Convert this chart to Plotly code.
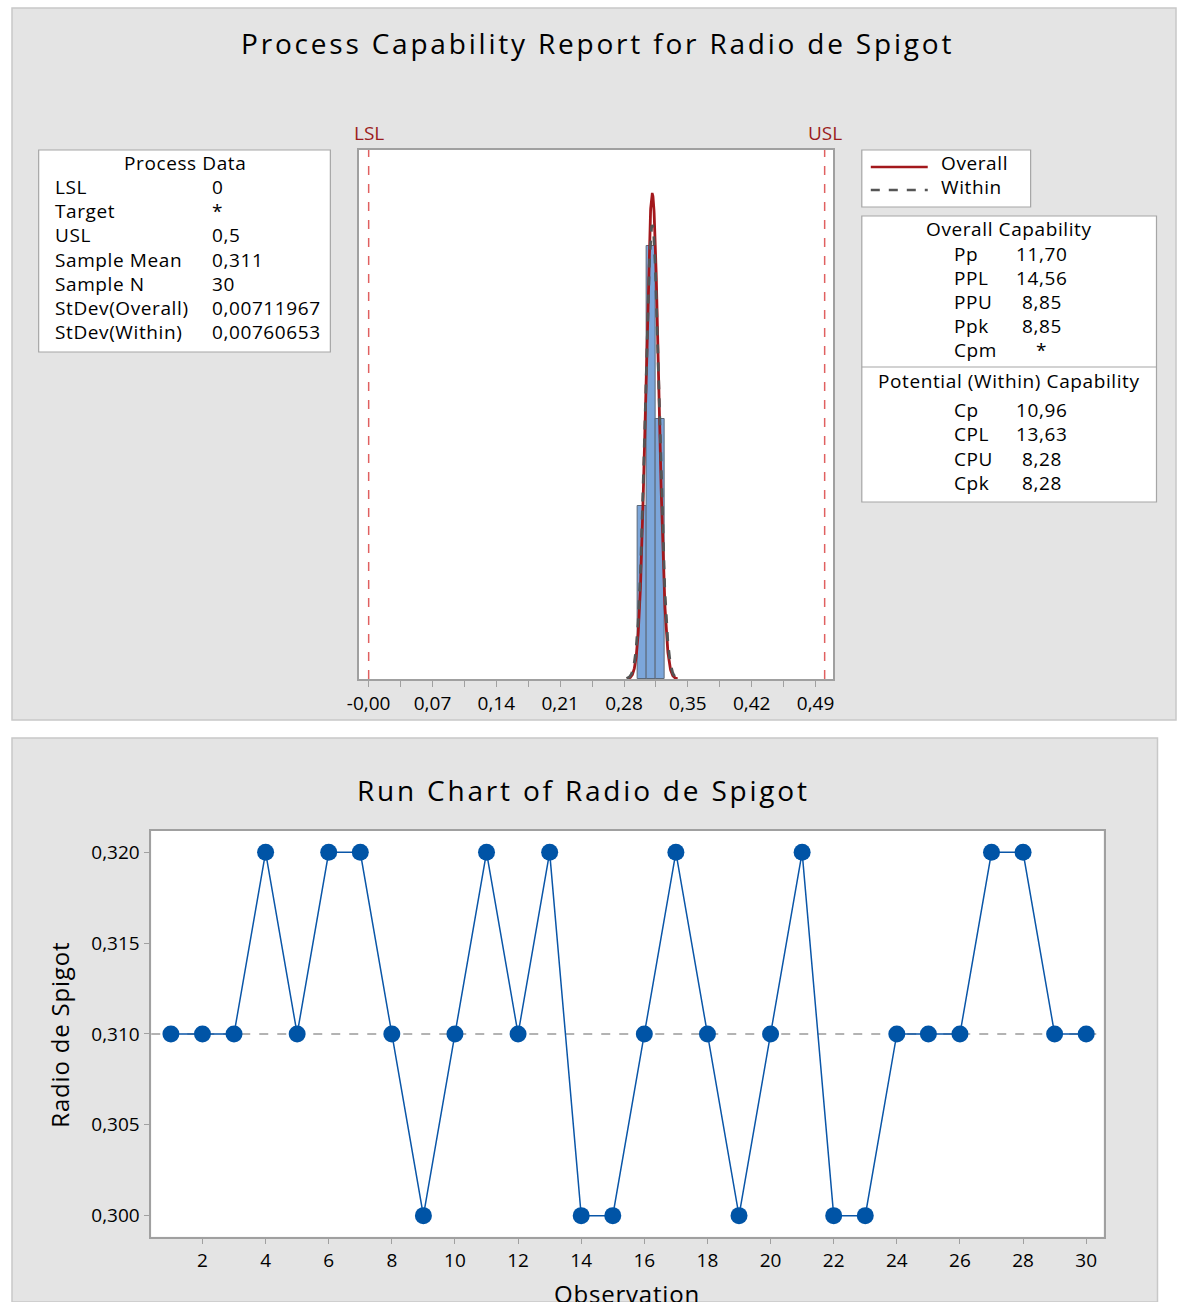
import numpy as np
import plotly.graph_objects as go

# ---------------- data ----------------
observation = list(range(1, 31))
radio = [0.310, 0.310, 0.310, 0.320, 0.310, 0.320, 0.320, 0.310, 0.300, 0.310,
         0.320, 0.310, 0.320, 0.300, 0.300, 0.310, 0.320, 0.310, 0.300, 0.310,
         0.320, 0.300, 0.300, 0.310, 0.310, 0.310, 0.320, 0.320, 0.310, 0.310]

LSL = 0.0
USL = 0.5
sample_mean = 0.311
stdev_overall = 0.00711967
stdev_within = 0.00760653
bin_start = 0.295
bin_size = 0.01

pd_labels = ["LSL", "Target", "USL", "Sample Mean", "Sample N", "StDev(Overall)", "StDev(Within)"]
pd_values = ["0", "*", "0,5", "0,311", "30", "0,00711967", "0,00760653"]
oc_labels = ["Pp", "PPL", "PPU", "Ppk", "Cpm"]
oc_values = ["11,70", "14,56", "8,85", "8,85", "*"]
pc_labels = ["Cp", "CPL", "CPU", "Cpk"]
pc_values = ["10,96", "13,63", "8,28", "8,28"]

hist_tickvals = [0.0, 0.07, 0.14, 0.21, 0.28, 0.35, 0.42, 0.49]
hist_ticktext = ["-0,00", "0,07", "0,14", "0,21", "0,28", "0,35", "0,42", "0,49"]
hist_minor = [0.035, 0.105, 0.175, 0.245, 0.315, 0.385, 0.455]
run_yticks = [0.300, 0.305, 0.310, 0.315, 0.320]
run_xticks = list(range(2, 31, 2))

# ---------------- geometry helpers ----------------
W, H = 1177, 1302
FONT = "Open Sans"
OFF, SC = 11.3, 0.990   # observed horizontal placement of the page in the capture


def px(x):
    v = ((x - OFF) / SC) / W
    return min(max(v, 0.0), 1.0)


def py(y):
    return 1 - y / H


def spaced(t, s):
    return f'<span style="letter-spacing:{s}px">{t}</span>'


fig = go.Figure()

# histogram
fig.add_trace(go.Histogram(
    x=radio, xbins=dict(start=bin_start, end=bin_start + 3 * bin_size, size=bin_size),
    marker=dict(color="#7ca6da", line=dict(color="#5b6878", width=1)),
    xaxis="x", yaxis="y", showlegend=False, hoverinfo="skip"))

n = len(radio)
scale = n * bin_size


def normal_curve(mu, sd, k):
    xs = np.linspace(mu - k * sd, mu + k * sd, 400)
    ys = scale * np.exp(-0.5 * ((xs - mu) / sd) ** 2) / (sd * np.sqrt(2 * np.pi))
    return xs, ys


xo, yo = normal_curve(sample_mean, stdev_overall, 3.9)
xw, yw = normal_curve(sample_mean, stdev_within, 3.7)
fig.add_trace(go.Scatter(x=xo, y=yo, mode="lines", line=dict(color="#a3181c", width=2.8),
                         xaxis="x", yaxis="y", showlegend=False, hoverinfo="skip"))
fig.add_trace(go.Scatter(x=xw, y=yw, mode="lines", line=dict(color="#555555", width=2.8, dash="dash"),
                         xaxis="x", yaxis="y", showlegend=False, hoverinfo="skip"))

# run chart
fig.add_trace(go.Scatter(x=observation, y=radio, mode="lines+markers",
                         line=dict(color="#0a56a8", width=1.5),
                         marker=dict(color="#0054a6", size=17),
                         xaxis="x2", yaxis="y2", showlegend=False))

median = float(np.median(radio))

shapes = [
    # panel backgrounds
    dict(type="rect", xref="paper", yref="paper", x0=px(8), x1=1.0, y0=py(720), y1=py(8),
         fillcolor="#e4e4e4", line=dict(color="#c8c8c8", width=1.5), layer="below"),
    dict(type="rect", xref="paper", yref="paper", x0=px(8), x1=px(1158), y0=0.0, y1=py(738),
         fillcolor="#e4e4e4", line=dict(color="#c8c8c8", width=1.5), layer="below"),
    # white plot areas
    dict(type="rect", xref="x domain", yref="y domain", x0=0, x1=1, y0=0, y1=1,
         fillcolor="white", line=dict(width=0), layer="below"),
    dict(type="rect", xref="x2 domain", yref="y2 domain", x0=0, x1=1, y0=0, y1=1,
         fillcolor="white", line=dict(width=0), layer="below"),
    # table boxes
    dict(type="rect", xref="paper", yref="paper", x0=px(38), x1=px(330), y0=py(352), y1=py(150),
         fillcolor="white", line=dict(color="#a6a6a6", width=1.2), layer="below"),
    dict(type="rect", xref="paper", yref="paper", x0=px(862), x1=px(1031), y0=py(207), y1=py(150),
         fillcolor="white", line=dict(color="#a6a6a6", width=1.2), layer="below"),
    dict(type="rect", xref="paper", yref="paper", x0=px(862), x1=px(1157), y0=py(502), y1=py(216),
         fillcolor="white", line=dict(color="#a6a6a6", width=1.2), layer="below"),
    dict(type="line", xref="paper", yref="paper", x0=px(862), x1=px(1157), y0=py(367), y1=py(367),
         line=dict(color="#a6a6a6", width=1.2)),
    # legend samples
    dict(type="line", xref="paper", yref="paper", x0=px(871), x1=px(928), y0=py(167), y1=py(167),
         line=dict(color="#a3181c", width=2.6)),
    dict(type="line", xref="paper", yref="paper", x0=px(871), x1=px(928), y0=py(190), y1=py(190),
         line=dict(color="#555555", width=2.6, dash="dash")),
    # spec limits
    dict(type="line", xref="x", yref="y domain", x0=LSL, x1=LSL, y0=0, y1=1,
         line=dict(color="#e06060", width=1.5, dash="dash")),
    dict(type="line", xref="x", yref="y domain", x0=USL, x1=USL, y0=0, y1=1,
         line=dict(color="#e06060", width=1.5, dash="dash")),
    # median reference
    dict(type="line", xref="x2 domain", yref="y2", x0=0, x1=1, y0=median, y1=median,
         line=dict(color="#9a9a9a", width=1.5, dash="dash"), layer="below"),
]

ann = []
TF = dict(family=FONT, size=19, color="black")


def text(x, y, t, anchor="left", font=TF, **kw):
    ann.append(dict(x=px(x), y=py(y), xref="paper", yref="paper", text=t, showarrow=False,
                    xanchor=anchor, yanchor="middle", font=font, **kw))


# titles
text(597, 43, spaced("Process Capability Report for Radio de Spigot", 2.8), "center",
     dict(family=FONT, size=28, color="black"))
text(583, 790, spaced("Run Chart of Radio de Spigot", 2.8), "center",
     dict(family=FONT, size=28, color="black"))

# Process data table
text(184, 163, spaced("Process Data", 0.6), "center")
for i, (lab, val) in enumerate(zip(pd_labels, pd_values)):
    yy = 187 + i * 24.2
    text(52, yy, spaced(lab, 0.6))
    text(210, yy, spaced(val, 0.6))

# legend
text(939, 163, spaced("Overall", 0.6))
text(939, 187, spaced("Within", 0.6))

# capability tables
text(1009, 229, spaced("Overall Capability", 0.6), "center")
for i, (lab, val) in enumerate(zip(oc_labels, oc_values)):
    yy = 254 + i * 24.1
    text(952, yy, spaced(lab, 0.6))
    text(1042, yy, spaced(val, 0.6), "center")
text(1009, 381, spaced("Potential (Within) Capability", 0.6), "center")
for i, (lab, val) in enumerate(zip(pc_labels, pc_values)):
    yy = 410 + i * 24.4
    text(952, yy, spaced(lab, 0.6))
    text(1042, yy, spaced(val, 0.6), "center")

# LSL / USL labels
for xv, lab in [(LSL, "LSL"), (USL, "USL")]:
    ann.append(dict(x=xv, y=py(133), xref="x", yref="paper", text=lab, showarrow=False,
                    xanchor="center", yanchor="middle",
                    font=dict(family=FONT, size=19, color="#9b1c20")))

# run chart axis titles
text(58, 1035, spaced("Radio de Spigot", 0.8), "center", dict(family=FONT, size=24, color="black"),
     textangle=-90)
text(627, 1293, spaced("Observation", 0.8), "center", dict(family=FONT, size=24, color="black"))

axis_common = dict(showline=True, linecolor="#a0a0a0", linewidth=1.5, mirror=True,
                   showgrid=False, zeroline=False, ticks="outside", ticklen=6,
                   tickcolor="#a0a0a0", tickfont=dict(family=FONT, size=19, color="black"))

fig.update_layout(
    width=W, height=H, autosize=False, margin=dict(l=0, r=0, t=0, b=0, pad=0),
    paper_bgcolor="white", plot_bgcolor="white", separators=", ",
    showlegend=False, bargap=0,
    xaxis=dict(domain=[px(358.3), px(833.3)], range=[-0.011, 0.5093], anchor="y",
               tickvals=hist_tickvals, ticktext=hist_ticktext,
               minor=dict(tickvals=hist_minor, ticks="outside", ticklen=6, tickcolor="#a0a0a0"),
               **axis_common),
    yaxis=dict(domain=[py(679), py(150)], range=[0, 18.34], anchor="x",
               showline=True, linecolor="#a0a0a0", linewidth=1.5, mirror=True,
               showgrid=False, zeroline=False, showticklabels=False, ticks=""),
    xaxis2=dict(domain=[px(150.7), px(1104)], range=[0.377, 30.55], anchor="y2",
                tickvals=run_xticks, **axis_common),
    yaxis2=dict(domain=[py(1236.7), py(830.7)], range=[0.29884, 0.32119], anchor="x2",
                tickvals=run_yticks, tickformat=".3f", **axis_common),
    shapes=shapes, annotations=ann,
)

fig.write_html("out.html", config={"responsive": False})
